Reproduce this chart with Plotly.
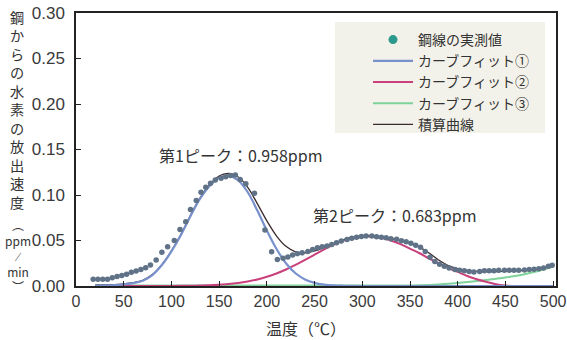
import plotly.graph_objects as go

# ---------------- data ----------------
temp_pts = [18, 23, 28, 33, 38, 43, 48, 53, 58, 63, 68, 73, 78, 84, 90, 96, 103, 109,
            115, 120, 126, 131, 136, 141, 146, 152, 157, 162, 167, 172, 178, 187, 198,
            205, 211, 217, 222, 227, 232, 237, 243, 248, 253, 258, 263, 268, 273, 278,
            284, 289, 294, 299, 304, 310, 315, 320, 325, 330, 336, 341, 346, 351, 356,
            361, 366, 371, 376, 381, 386, 391, 397, 402, 407, 412, 417, 423, 428, 433,
            438, 443, 449, 454, 459, 464, 470, 475, 480, 485, 490, 495, 499]
rate_pts = [0.0073, 0.0073, 0.0073, 0.0073, 0.0090, 0.0105, 0.0115, 0.0130, 0.0150,
            0.0165, 0.0180, 0.0200, 0.0230, 0.0285, 0.0370, 0.0430, 0.0500, 0.0620,
            0.0705, 0.0840, 0.0940, 0.1030, 0.1085, 0.1130, 0.1165, 0.1185, 0.1200,
            0.1215, 0.1220, 0.1170, 0.1125, 0.1020, 0.0615, 0.0377, 0.0290, 0.0305,
            0.0320, 0.0340, 0.0355, 0.0365, 0.0380, 0.0400, 0.0420, 0.0430, 0.0440,
            0.0455, 0.0475, 0.0495, 0.0510, 0.0525, 0.0535, 0.0545, 0.0550, 0.0550,
            0.0540, 0.0535, 0.0530, 0.0520, 0.0515, 0.0498, 0.0485, 0.0470, 0.0447,
            0.0425, 0.0380, 0.0315, 0.0270, 0.0240, 0.0216, 0.0198, 0.0180, 0.0172,
            0.0168, 0.0160, 0.0154, 0.0160, 0.0168, 0.0168, 0.0168, 0.0172, 0.0172,
            0.0172, 0.0172, 0.0172, 0.0176, 0.0180, 0.0183, 0.0190, 0.0198, 0.0216,
            0.0227]

temp_fit = [20, 30, 40, 50, 60, 70, 80, 90, 100, 110, 120, 130, 140, 150, 160, 170,
            180, 190, 200, 210, 220, 230, 240, 250, 260, 270, 280, 290, 300, 310, 320,
            330, 340, 350, 360, 370, 380, 390, 400, 410, 420, 430, 440, 450, 460, 470,
            480, 490, 500]
fit1 = [0.0003, 0.0006, 0.0010, 0.0018, 0.0032, 0.0058, 0.0120, 0.0230, 0.0380, 0.0560,
        0.0770, 0.0960, 0.1100, 0.1190, 0.1210, 0.1160, 0.1030, 0.0830, 0.0610, 0.0410,
        0.0250, 0.0140, 0.0072, 0.0035, 0.0016, 0.0007, 0.0003, 0.0001, 0.0, 0.0, 0.0,
        0.0, 0.0, 0.0, 0.0, 0.0, 0.0, 0.0, 0.0, 0.0, 0.0, 0.0, 0.0, 0.0, 0.0, 0.0, 0.0,
        0.0, 0.0]
fit2 = [0.0, 0.0, 0.0, 0.0, 0.0, 0.0, 0.0, 0.0, 0.0001, 0.0002, 0.0003, 0.0005, 0.0008,
        0.0014, 0.0021, 0.0033, 0.0050, 0.0072, 0.0101, 0.0137, 0.0181, 0.0231, 0.0287,
        0.0345, 0.0403, 0.0455, 0.0500, 0.0531, 0.0545, 0.0545, 0.0531, 0.0500, 0.0460,
        0.0410, 0.0360, 0.0300, 0.0250, 0.0200, 0.0155, 0.0110, 0.0075, 0.0045, 0.0020,
        0.0005, -0.0005, -0.0010, -0.0015, -0.0020, -0.0020]
fit3 = [0.0005, 0.0005, 0.0005, 0.0005, 0.0005, 0.0005, 0.0005, 0.0005, 0.0005, 0.0005,
        0.0005, 0.0005, 0.0005, 0.0005, 0.0005, 0.0005, 0.0005, 0.0005, 0.0005, 0.0005,
        0.0005, 0.0005, 0.0005, 0.0005, 0.0005, 0.0005, 0.0005, 0.0005, 0.0005, 0.0005,
        0.0005, 0.0005, 0.0005, 0.0006, 0.0008, 0.0012, 0.0017, 0.0024, 0.0033, 0.0043,
        0.0054, 0.0066, 0.0079, 0.0093, 0.0110, 0.0130, 0.0153, 0.0180, 0.0210]
total = [0.0008, 0.0011, 0.0015, 0.0023, 0.0037, 0.0063, 0.0125, 0.0235, 0.0386, 0.0567,
         0.0778, 0.0970, 0.1113, 0.1209, 0.1236, 0.1198, 0.1085, 0.0905, 0.0716, 0.0552,
         0.0436, 0.0376, 0.0364, 0.0385, 0.0424, 0.0467, 0.0508, 0.0537, 0.0551, 0.0551,
         0.0540, 0.0522, 0.0498, 0.0468, 0.0428, 0.0362, 0.0285, 0.0225, 0.0190, 0.0170,
         0.0160, 0.0157, 0.0158, 0.0161, 0.0166, 0.0173, 0.0181, 0.0196, 0.0230]

legend_names = ["鋼線の実測値", "カーブフィット①", "カーブフィット②", "カーブフィット③", "積算曲線"]
x_ticks = [0, 50, 100, 150, 200, 250, 300, 350, 400, 450, 500]
y_ticks = [0.00, 0.05, 0.10, 0.15, 0.20, 0.25, 0.30]
peak_texts = ["第1ピーク：0.958ppm", "第2ピーク：0.683ppm"]
peak_pos = [(85, 0.144), (246, 0.078)]
x_title = "温度（℃）"
y_title_chars = ["鋼", "か", "ら", "の", "水", "素", "の", "放", "出", "速", "度"]
y_title_unit = ["︵", "ppm", "⁄", "min", "︶"]

# ---------------- styling ----------------
JP = "Noto Sans CJK JP"
NUM = "Liberation Sans"
C_DOT = "#5f7287"
C_DOT_LEG = "#2b9a8c"
C1 = "#7890cc"
C2 = "#c9407c"
C3 = "#7fd39a"
CT = "#3b2b2b"
TXT = "#333333"

W, H = 567, 340
L, T = 76, 13
R, B = W - 556, H - 286
PW, PH = W - L - R, H - T - B


def px_to_paper(sx, sy):
    """screen pixel -> paper coordinates"""
    return (sx - L) / PW, (H - B - sy) / PH


fig = go.Figure()

fig.add_trace(go.Scatter(x=temp_fit, y=fit3, mode="lines", name=legend_names[3],
                         line=dict(color=C3, width=2, shape="spline"), legendrank=4))
fig.add_trace(go.Scatter(x=temp_fit, y=fit2, mode="lines", name=legend_names[2],
                         line=dict(color=C2, width=2, shape="spline"), legendrank=3))
fig.add_trace(go.Scatter(x=temp_fit, y=total, mode="lines", name=legend_names[4],
                         line=dict(color=CT, width=1.3, shape="spline"), legendrank=5))
fig.add_trace(go.Scatter(x=temp_fit, y=fit1, mode="lines", name=legend_names[1],
                         line=dict(color=C1, width=2.2, shape="spline"), legendrank=2))
fig.add_trace(go.Scatter(x=temp_pts, y=rate_pts, mode="markers", name=legend_names[0],
                         marker=dict(color=C_DOT, size=5.5), showlegend=False))
fig.add_trace(go.Scatter(x=[None], y=[None], mode="markers", name=legend_names[0],
                         marker=dict(color=C_DOT_LEG, size=9), legendrank=1))

# legend background box
x0, y1 = px_to_paper(335, 22)
x1, y0 = px_to_paper(545, 133)
fig.add_shape(type="rect", xref="paper", yref="paper", x0=x0, x1=x1, y0=y0, y1=y1,
              fillcolor="#f3f2ea", line=dict(width=0), layer="below")

annotations = []
for txt, (xx, yy) in zip(peak_texts, peak_pos):
    annotations.append(dict(x=xx, y=yy, xref="x", yref="y", text=txt, showarrow=False,
                            xanchor="left", yanchor="middle",
                            font=dict(family=JP, size=16, color=TXT)))

ax, ay = px_to_paper(306, 328)
annotations.append(dict(x=ax, y=ay, xref="paper", yref="paper", text=x_title,
                        showarrow=False, xanchor="center", yanchor="middle",
                        font=dict(family=JP, size=16, color=TXT)))

cx, cy = px_to_paper(17, 110)
annotations.append(dict(x=cx, y=cy, xref="paper", yref="paper",
                        text="<br>".join(y_title_chars), showarrow=False,
                        xanchor="center", yanchor="middle",
                        font=dict(family=JP, size=14.2, color=TXT)))
cx, cy = px_to_paper(18, 256)
annotations.append(dict(x=cx, y=cy, xref="paper", yref="paper",
                        text="<br>".join(y_title_unit), showarrow=False,
                        xanchor="center", yanchor="middle",
                        font=dict(family=JP, size=12, color=TXT)))

lx, ly = px_to_paper(368, 24)
fig.update_layout(
    width=W, height=H,
    margin=dict(l=L, r=R, t=T, b=B, pad=0, autoexpand=False),
    paper_bgcolor="white", plot_bgcolor="white",
    showlegend=True,
    legend=dict(x=lx, y=ly, xanchor="left", yanchor="top", bgcolor="rgba(0,0,0,0)",
                font=dict(family=JP, size=14, color=TXT),
                tracegroupgap=0, itemwidth=40),
    annotations=annotations,
    xaxis=dict(range=[0, 503], tickvals=x_ticks, ticks="inside", ticklen=5,
               tickcolor="#222222", showline=True, mirror=True, linecolor="#222222",
               linewidth=1.5, showgrid=False, zeroline=False, ticklabelstandoff=0,
               automargin=False, ticklabeloverflow="allow",
               tickfont=dict(family=NUM, size=16, color="#3a3a3a")),
    yaxis=dict(range=[0, 0.30], tickvals=y_ticks, tickformat=".2f", ticks="inside",
               ticklen=5, tickcolor="#222222", showline=True, mirror=True,
               linecolor="#222222", linewidth=1.5, showgrid=False, zeroline=False,
               ticklabelstandoff=6, automargin=False, ticklabeloverflow="allow",
               tickfont=dict(family=NUM, size=17, color="#3a3a3a")),
)

fig.write_html("out.html", config={"displayModeBar": False},
               post_script="document.body.style.margin='0px';")
